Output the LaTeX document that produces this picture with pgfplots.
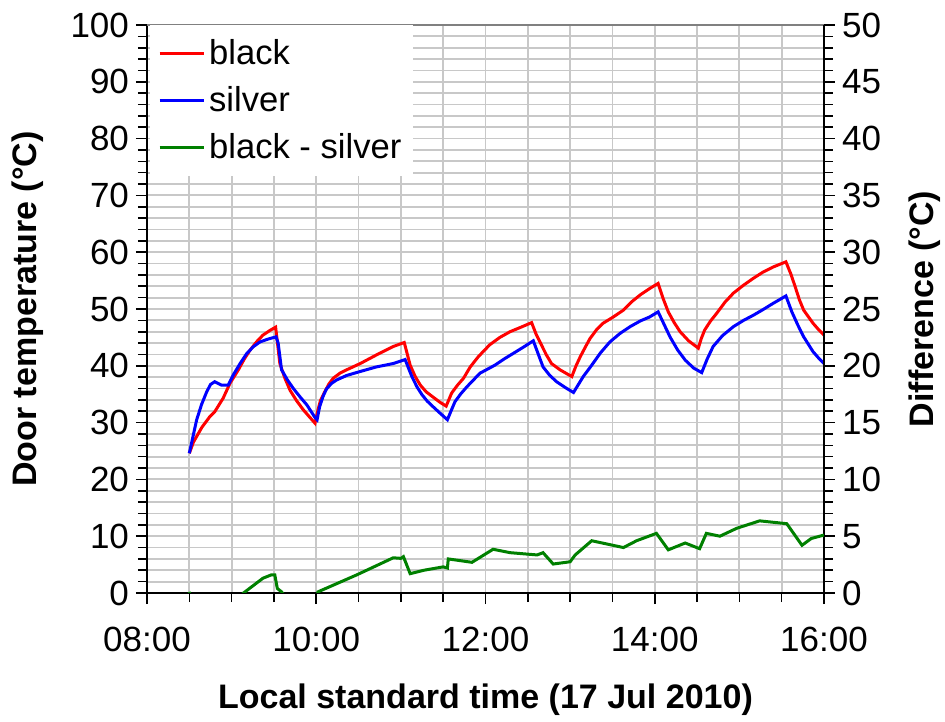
\documentclass[border=0pt]{standalone}
\usepackage{fontspec}
\setmainfont{Liberation Sans}
\usepackage{pgfplots}
\pgfplotsset{compat=1.18}
\definecolor{gridgray}{HTML}{C8C8C8}
\definecolor{lineblack}{HTML}{FF0000}
\definecolor{linesilver}{HTML}{0000FF}
\definecolor{linediff}{HTML}{008000}

\pgfplotsset{
  doorstyle/.style={
    width=338.5pt, height=284pt, scale only axis,
    xmin=8, xmax=16,
    /pgf/number format/assume math mode=true,
    tick label style={font=\fontsize{17.5}{20}\selectfont},
    label style={font=\bfseries\fontsize{17}{20}\selectfont},
    tick align=outside,
    major tick length=5.5pt, minor tick length=4.5pt,
    tick style={black, line width=0.8pt},
    axis line style={black, line width=1pt},
  },
}

\begin{document}
\begin{tikzpicture}
\useasboundingbox (-73.5pt,-64pt) rectangle (399pt,296.5pt);
\begin{axis}[
  doorstyle,
  axis lines*=left,
  ymin=0, ymax=100,
  ytick={0,10,...,100},
  minor ytick={2,4,...,98},
  xtick={8,10,...,16},
  xticklabels={08:00,10:00,12:00,14:00,16:00},
  minor xtick={8.5,9,...,15.5},
  xticklabel style={yshift=-8pt},
  grid=both,
  major grid style={gridgray, line width=0.9pt},
  minor grid style={gridgray, line width=0.9pt},
  xlabel={Local standard time (17 Jul 2010)},
  ylabel={Door temperature (°C)},
  xlabel style={at={(axis description cs:0.5,-0.188)}, anchor=center},
  ylabel style={at={(axis description cs:-0.176,0.5)}, anchor=center},
  legend cell align=left,
  legend style={at={(axis description cs:0.004,1)}, anchor=north west,
    draw=none, fill=white, font=\fontsize{17.3}{20}\selectfont,
    row sep=5.5pt, inner xsep=4pt, inner ysep=5pt},
  legend image code/.code={\draw[#1] (0pt,0pt) -- (22pt,0pt);},
]
\draw[gray, line width=1pt] (rel axis cs:0,1) -- (rel axis cs:1,1);
\addplot[lineblack, line width=1.5pt] coordinates {
(8.50,24.6) (8.55,26.6) (8.65,29.2) (8.74,31.0) (8.80,31.9) (8.90,34.3) (8.98,36.9)
(9.08,39.3) (9.15,41.2) (9.22,42.8) (9.30,44.3) (9.37,45.4) (9.45,46.2) (9.52,46.8)
(9.57,40.4) (9.63,37.8) (9.69,35.7) (9.77,33.8) (9.85,32.2) (9.92,31.0) (9.985,29.9)
(10.02,32.2) (10.05,33.9) (10.10,35.4) (10.15,36.8) (10.20,37.8) (10.28,38.7) (10.36,39.3)
(10.52,40.4) (10.71,41.9) (10.91,43.4) (11.04,44.1) (11.11,40.1) (11.17,38.1) (11.23,36.6)
(11.30,35.4) (11.38,34.5) (11.46,33.6) (11.535,32.9) (11.60,35.2) (11.67,36.6) (11.74,37.8)
(11.82,39.8) (11.915,41.6) (12.05,43.7) (12.17,45.0) (12.29,46.0) (12.42,46.8) (12.545,47.6)
(12.60,45.5) (12.66,43.7) (12.72,41.9) (12.78,40.4) (12.88,39.3) (13.02,38.1)
(13.07,40.0) (13.12,41.6) (13.18,43.3) (13.235,44.8) (13.31,46.3) (13.39,47.5) (13.50,48.5)
(13.63,49.8) (13.73,51.3) (13.83,52.5) (13.94,53.6)
(14.04,54.5) (14.10,51.8) (14.16,49.5) (14.23,47.6) (14.30,46.0) (14.40,44.4) (14.515,43.1)
(14.55,44.8) (14.59,46.3) (14.66,47.9) (14.73,49.2) (14.83,51.2)
(14.93,52.8) (15.05,54.2) (15.165,55.4) (15.28,56.5) (15.40,57.4) (15.55,58.3)
(15.61,56.1) (15.66,53.9) (15.71,51.6) (15.76,49.8) (15.87,47.5) (15.94,46.3) (16.00,45.4)
};
\addlegendentry{black}
\addplot[linesilver, line width=1.5pt] coordinates {
(8.50,24.6) (8.587,30.5) (8.645,33.2) (8.705,35.4) (8.75,36.7) (8.80,37.2) (8.84,36.9) (8.88,36.6) (8.96,36.6)
(9.02,38.4) (9.10,40.4) (9.18,42.2) (9.26,43.4) (9.335,44.2) (9.43,44.7) (9.525,45.1) (9.55,44.0) (9.59,39.3)
(9.66,37.5) (9.73,36.0) (9.81,34.5) (9.89,33.1) (9.985,30.9) (10.01,30.5) (10.04,32.8) (10.08,34.6) (10.12,35.9)
(10.18,36.9) (10.24,37.5) (10.36,38.3) (10.52,39.0) (10.71,39.8) (10.91,40.4) (11.05,41.1) (11.13,38.1)
(11.19,36.3) (11.25,34.9) (11.31,33.8) (11.38,32.8) (11.46,31.7) (11.55,30.5) (11.60,32.3) (11.64,33.7) (11.71,35.1) (11.78,36.3) (11.935,38.7)
(12.11,40.1) (12.22,41.2) (12.33,42.2) (12.45,43.3) (12.565,44.4) (12.68,39.8) (12.76,38.3) (12.84,37.2) (12.94,36.2) (13.04,35.3)
(13.155,38.1) (13.25,40.0) (13.36,42.3) (13.47,44.2) (13.59,45.7) (13.71,46.9) (13.83,47.9) (13.94,48.6) (14.04,49.5)
(14.18,45.1) (14.27,42.8) (14.36,41.0) (14.46,39.6) (14.555,38.8) (14.62,41.2) (14.69,43.4) (14.80,45.3) (14.93,46.9) (15.05,48.0) (15.165,48.9)
(15.28,49.9) (15.40,51.0) (15.55,52.3) (15.62,49.5) (15.69,47.2) (15.76,45.1) (15.87,42.5) (15.94,41.3) (16.00,40.4)
};
\addlegendentry{silver}
\addlegendimage{linediff, line width=1.5pt}
\addlegendentry{black - silver}
\end{axis}

\begin{axis}[
  doorstyle,
  axis x line=none,
  axis y line*=right,
  ymin=0, ymax=50,
  ytick={0,5,...,50},
  minor ytick={1,2,...,49},
  ylabel={Difference (°C)},
  ylabel style={at={(axis description cs:1.149,0.5)}, anchor=center},
]
\addplot[linediff, line width=1.5pt] coordinates {
(8.50,0.1) (8.60,-3) (8.80,-5) (9.00,-1.5) (9.14,0) (9.37,1.3)
(9.47,1.6) (9.51,1.6) (9.54,0.4) (9.59,0.1) (9.65,-0.5) (9.80,-0.8)
(9.98,-1) (10.02,0.1) (10.48,1.6) (10.91,3.1) (11.00,3.05) (11.03,3.2)
(11.11,1.7) (11.27,2.0) (11.50,2.3) (11.55,2.2) (11.56,3.0) (11.84,2.7)
(12.09,3.85) (12.29,3.55) (12.61,3.35) (12.68,3.55) (12.80,2.55) (13.00,2.75)
(13.06,3.35) (13.255,4.6) (13.63,4.0) (13.785,4.6) (14.02,5.25) (14.16,3.8)
(14.36,4.4) (14.53,3.9) (14.61,5.25) (14.77,5.0) (14.97,5.7) (15.24,6.35)
(15.56,6.1) (15.74,4.2) (15.85,4.8) (16.00,5.1)
};
\end{axis}
\end{tikzpicture}
\end{document}
